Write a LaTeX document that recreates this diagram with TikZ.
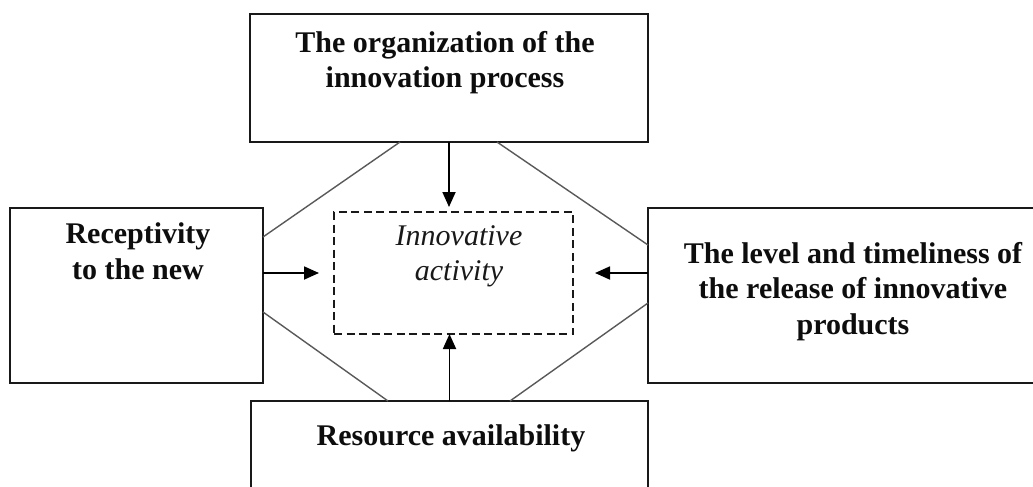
\documentclass[tikz,border=0pt]{standalone}
\usepackage{fontspec}
\setmainfont{Liberation Serif}
\usetikzlibrary{arrows.meta,calc}
\begin{document}
\begin{tikzpicture}[x=1pt,y=-1pt,
  box/.style={draw=black!90, line width=1.7pt, rectangle, inner sep=0pt, outer sep=0pt},
  dbox/.style={draw=black!90, line width=1.6pt, dash pattern=on 8pt off 4.5pt, rectangle, inner sep=0pt, outer sep=0pt},
  lbl/.style={font=\fontsize{30}{35.5}\selectfont\bfseries, align=center, inner sep=0pt, text=black!95, anchor=base},
  ital/.style={font=\fontsize{30}{35}\selectfont\itshape, align=center, inner sep=0pt, text=black!90, anchor=base},
  arr/.style={line width=1.8pt, -{Triangle[length=15pt,width=13pt]}},
  diag/.style={line width=1.4pt, draw=black!65}]
\useasboundingbox (0,0) rectangle (1033,487);
\clip (0,0) rectangle (1033,487);

\node[box, minimum width=398pt, minimum height=128pt] (top) at (449,78) {};
\node[box, minimum width=253pt, minimum height=175pt] (left) at (136.5,295.5) {};
\node[box, minimum width=412pt, minimum height=175pt] (right) at (854,295.5) {};
\node[box, minimum width=397pt, minimum height=99pt] (bot) at (449.5,450.5) {};
\node[dbox, minimum width=239pt, minimum height=122pt] (act) at (453.5,273) {};

\node[lbl] (ttop) at (445,88) {The organization of the\\innovation process};
\node[lbl] (tleft) at (138,279) {Receptivity\\to the new};
\node[lbl] (tright) at (853,334) {The level and timeliness of\\the release of innovative\\products};
\node[lbl] (tbot) at (451,445) {Resource availability};
\node[ital] (tact) at (459,280) {Innovative\\activity};

\draw[arr, shorten >=5pt] (top.south) -- (top.south |- act.north);
\draw[arr] (bot.north) -- (bot.north |- act.south);
\draw[arr, shorten >=15pt] (act.west -| left.east) -- (act.west);
\draw[arr, shorten >=22pt] (act.east -| right.west) -- (act.east);

\draw[diag] ($(top.south west)+(150,0)$) -- ($(left.north east)+(0,29)$);
\draw[diag] ($(top.south west)+(247,0)$) -- ($(right.north west)+(0,37)$);
\draw[diag] ($(left.north east)+(0,104)$) -- ($(bot.north west)+(137,0)$);
\draw[diag] ($(right.north west)+(0,95)$) -- ($(bot.north west)+(259,0)$);
\end{tikzpicture}
\end{document}
